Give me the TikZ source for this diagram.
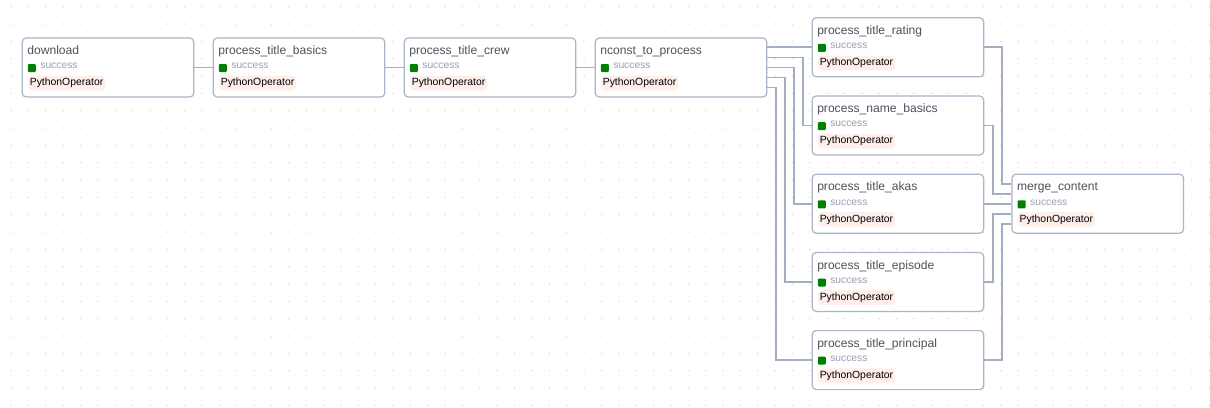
\documentclass[tikz,border=0pt]{standalone}
\usepackage{fontspec}
\setmainfont{Liberation Sans}
\usetikzlibrary{positioning}

\definecolor{linegray}{RGB}{163,174,192}
\definecolor{boxgray}{RGB}{170,181,198}
\definecolor{titlegray}{RGB}{78,82,90}
\definecolor{stategray}{RGB}{150,160,176}
\definecolor{okgreen}{RGB}{0,128,0}
\definecolor{opfill}{RGB}{255,239,235}
\definecolor{dotgray}{RGB}{212,212,212}

\begin{document}
\begin{tikzpicture}[
    x=1pt, y=-1pt,
    titletext/.style={anchor=base west, xshift=5.5pt, yshift=-17.2pt, inner sep=0pt, font=\fontsize{12.1}{14}\selectfont, text=titlegray},
    statebox/.style={anchor=north west, xshift=6pt, yshift=-26.5pt, inner sep=0pt, minimum width=8pt, minimum height=8pt, fill=okgreen, rounded corners=1pt},
    statetext/.style={anchor=base west, xshift=18.5pt, yshift=-31.5pt, inner sep=0pt, font=\fontsize{10.3}{12}\selectfont, text=stategray},
    opbadge/.style={anchor=north west, xshift=6pt, yshift=-38.2pt, inner xsep=2pt, inner ysep=0pt, minimum height=14.7pt, fill=opfill, rounded corners=4pt, font=\fontsize{10.4}{12}\selectfont, text=black},
    taskbox/.style={rectangle, draw=boxgray, line width=1.2pt, fill=white, rounded corners=4pt, minimum width=171.5pt, minimum height=59pt, inner sep=0pt,
        label={[titletext]north west:#1},
        label={[statebox]north west:{}},
        label={[statetext]north west:success},
        label={[opbadge]north west:PythonOperator}},
    dagline/.style={draw=linegray, line width=1.8pt},
]

% Canvas and dot grid
\fill[white] (0,0) rectangle (1210,407);
\useasboundingbox (0,0) rectangle (1210,407);
\foreach \i in {0,...,69}
  \foreach \j in {0,...,23}
    \fill[dotgray] (11+17.366*\i, 6.7+17.333*\j) circle (0.75pt);

% Main chain
\node[taskbox=download] (download) at (108,67.5) {};
\node[taskbox=process\_title\_basics, right=18.3pt of download] (basics) {};
\node[taskbox=process\_title\_crew, right=18.3pt of basics] (crew) {};
\node[taskbox=nconst\_to\_process, right=18.3pt of crew] (nconst) {};

% Fan-out tasks
\node[taskbox=process\_title\_rating, right=44.2pt of nconst, yshift=20.2pt] (rating) {};
\node[taskbox=process\_name\_basics, below=18pt of rating] (namebasics) {};
\node[taskbox=process\_title\_akas, below=18pt of namebasics] (akas) {};
\node[taskbox=process\_title\_episode, below=18pt of akas] (episode) {};
\node[taskbox=process\_title\_principal, below=18pt of episode] (principal) {};

% Join
\node[taskbox=merge\_content, right=27.2pt of akas] (merge) {};

% Edges
\draw[dagline] (download) -- (basics);
\draw[dagline] (basics) -- (crew);
\draw[dagline] (crew) -- (nconst);

\draw[dagline] (nconst.east |- rating.west) -- (rating.west);
\draw[dagline] ([yshift=10pt]nconst.east) -- ++(36,0) |- (namebasics.west);
\draw[dagline] (nconst.east) -- ++(27,0) |- (akas.west);
\draw[dagline] ([yshift=-10pt]nconst.east) -- ++(18,0) |- (episode.west);
\draw[dagline] ([yshift=-20pt]nconst.east) -- ++(9,0) |- (principal.west);

\draw[dagline] (rating.east) -- ++(18,0) |- ([yshift=20pt]merge.west);
\draw[dagline] (namebasics.east) -- ++(9,0) |- ([yshift=10pt]merge.west);
\draw[dagline] (akas) -- (merge);
\draw[dagline] (episode.east) -- ++(9,0) |- ([yshift=-10pt]merge.west);
\draw[dagline] (principal.east) -- ++(18,0) |- ([yshift=-20pt]merge.west);

\end{tikzpicture}
\end{document}
